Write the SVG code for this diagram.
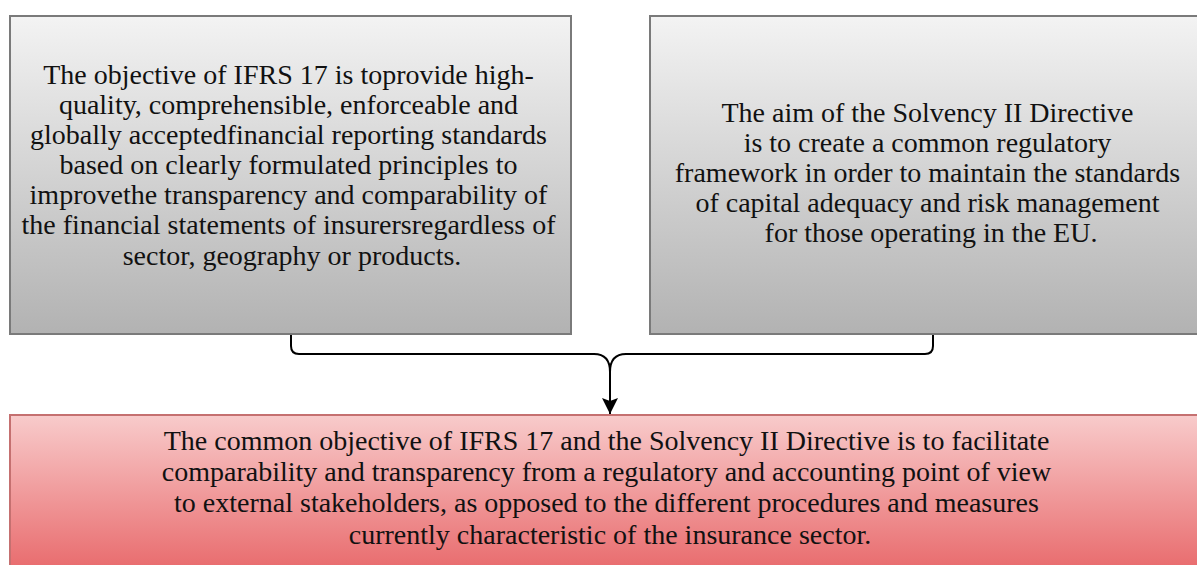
<svg xmlns="http://www.w3.org/2000/svg" width="1197" height="565" viewBox="0 0 1197 565">
  <defs>
    <linearGradient id="grayFill" x1="0" y1="0" x2="0" y2="1">
      <stop offset="0" stop-color="#f3f3f3"/>
      <stop offset="1" stop-color="#b2b2b2"/>
    </linearGradient>
    <linearGradient id="redFill" x1="0" y1="0" x2="0" y2="1">
      <stop offset="0" stop-color="#f8cbcb"/>
      <stop offset="1" stop-color="#e8686a"/>
    </linearGradient>
    <marker id="arrowHead" viewBox="0 0 16 16" refX="16" refY="8" markerWidth="16" markerHeight="16" markerUnits="userSpaceOnUse" orient="auto">
      <path d="M0,0 L16,8 L0,16 L3,8 z" fill="#000"/>
    </marker>
  </defs>
  <style>
    .box-gray { fill: url(#grayFill); stroke: #7a7a7a; stroke-width: 2; }
    .box-red { fill: url(#redFill); stroke: #c57070; stroke-width: 2; }
    .label { font-family: "Liberation Serif", "Times New Roman", serif; font-size: 28px; fill: #111; text-anchor: middle; }
    .connector { fill: none; stroke: #000; stroke-width: 2; }
  </style>

  <rect width="1197" height="565" fill="#fff"/>

  <g id="node-ifrs17">
    <rect class="box-gray" x="10" y="16" width="561" height="318"/>
    <text class="label" x="292">
      <tspan x="292" y="84">The objective of IFRS 17 is toprovide high-</tspan>
      <tspan x="292" y="114">quality, comprehensible, enforceable and</tspan>
      <tspan x="292" y="144">globally acceptedfinancial reporting standards</tspan>
      <tspan x="292" y="174">based on clearly formulated principles to</tspan>
      <tspan x="292" y="204">improvethe transparency and comparability of</tspan>
      <tspan x="292" y="234">the financial statements of insurersregardless of</tspan>
      <tspan x="292" y="265">sector, geography or products.</tspan>
    </text>
  </g>

  <g id="node-solvency">
    <rect class="box-gray" x="650" y="16" width="560" height="318"/>
    <text class="label" x="931">
      <tspan x="931" y="122">The aim of the Solvency II Directive</tspan>
      <tspan x="931" y="152">is to create a common regulatory</tspan>
      <tspan x="931" y="182">framework in order to maintain the standards</tspan>
      <tspan x="931" y="212">of capital adequacy and risk management</tspan>
      <tspan x="931" y="242">for those operating in the EU.</tspan>
    </text>
  </g>

  <g id="node-common">
    <rect class="box-red" x="10" y="415" width="1200" height="160"/>
    <text class="label" x="610">
      <tspan x="610" y="450">The common objective of IFRS 17 and the Solvency II Directive is to facilitate</tspan>
      <tspan x="610" y="481">comparability and transparency from a regulatory and accounting point of view</tspan>
      <tspan x="610" y="512">to external stakeholders, as opposed to the different procedures and measures</tspan>
      <tspan x="610" y="544">currently characteristic of the insurance sector.</tspan>
    </text>
  </g>

  <g id="connectors">
    <path class="connector" d="M291,335 V346 Q291,354 299,354 H594 Q610,354 610,372"/>
    <path class="connector" d="M933,335 V346 Q933,354 925,354 H626 Q610,354 610,372"/>
    <path class="connector" d="M610,370 V414" marker-end="url(#arrowHead)"/>
  </g>
</svg>
